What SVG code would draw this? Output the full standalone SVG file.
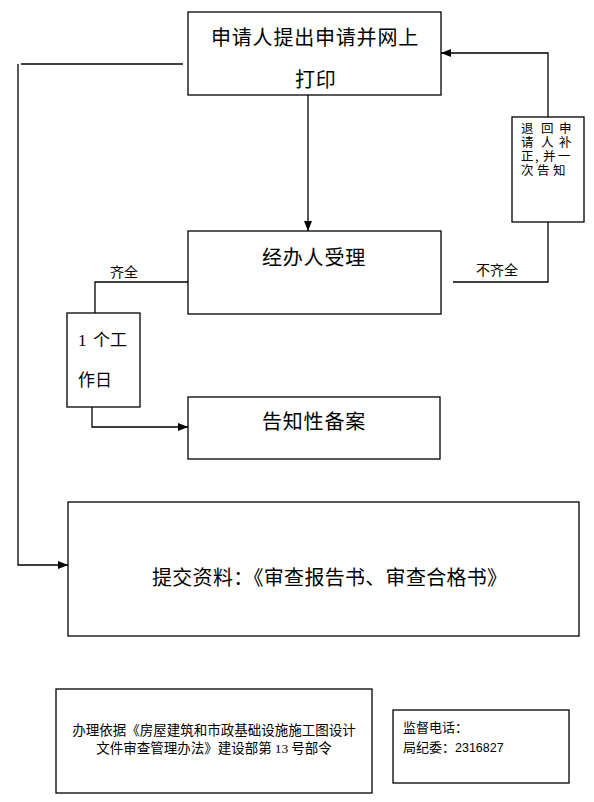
<svg xmlns="http://www.w3.org/2000/svg" width="594" height="802" viewBox="0 0 594 802">
<defs>
<marker id="arr" viewBox="0 0 10 8" refX="10" refY="4" markerWidth="10" markerHeight="8" markerUnits="userSpaceOnUse" orient="auto">
<path d="M0,0 L10,4 L0,8 Z" fill="#000"/>
</marker>
</defs>
<style>
rect{fill:#fff;stroke:#000;stroke-width:1.3}
.c line,.c polyline{fill:none;stroke:#000;stroke-width:1.3}
text{font-family:"Noto Sans CJK SC","Liberation Sans",sans-serif;fill:#000}
.big{font-size:20px;letter-spacing:0.8px}
.sm{font-size:13.5px}
.bx{font-size:14px}
.rb{font-size:12.5px}
.num{font-family:"Liberation Serif","Noto Sans CJK SC",serif}
</style>
<rect width="594" height="802" style="fill:#fff;stroke:none"/>
<g class="c" id="connectors">
<line x1="308" y1="95" x2="308" y2="231" marker-end="url(#arr)"/>
<polyline points="453,282 548,282 548,222"/>
<polyline points="548,117 548,53 441,53" marker-end="url(#arr)"/>
<polyline points="188,282 95,282 95,313"/>
<polyline points="92,407 92,427 188,427" marker-end="url(#arr)"/>
<line x1="21" y1="64" x2="183" y2="64"/>
<polyline points="18,64 18,565 68,565" marker-end="url(#arr)"/>
</g>
<g id="labels">
<text class="bx" x="476" y="275">不齐全</text>
<text class="bx" x="110" y="277">齐全</text>
</g>
<g id="n1">
<rect x="188" y="12" width="253" height="83"/>
<text class="big" x="211" y="45">申请人提出申请并网上</text>
<text class="big" x="295" y="87">打印</text>
</g>
<g id="n2">
<rect x="188" y="231" width="253" height="83"/>
<text class="big" x="262" y="265">经办人受理</text>
</g>
<g id="n_return">
<rect x="512" y="117" width="72" height="105"/>
<text class="rb"><tspan x="521 541 559" y="133">退回申</tspan><tspan x="521 541 559" y="147">请人补</tspan><tspan x="521 535 543 558" y="161">正,并一</tspan><tspan x="521 537 553" y="175">次告知</tspan></text>
</g>
<g id="n_day">
<rect x="67" y="313" width="73" height="94"/>
<text style="font-size:17px" y="346"><tspan class="num" x="78">1</tspan><tspan x="93">个工</tspan></text>
<text style="font-size:17px" x="78" y="386">作日</text>
</g>
<g id="n3">
<rect x="188" y="397" width="252" height="62"/>
<text class="big" x="262" y="429">告知性备案</text>
</g>
<g id="n5">
<rect x="68" y="502" width="511" height="134"/>
<text class="big" x="152" y="585" style="letter-spacing:0.3px">提交资料：《审查报告书、审查合格书》</text>
</g>
<g id="n6">
<rect x="56" y="689" width="316" height="104"/>
<text class="sm" x="214" y="735" text-anchor="middle">办理依据《房屋建筑和市政基础设施施工图设计</text>
<text class="sm" x="214" y="753" text-anchor="middle">文件审查管理办法》建设部第 <tspan class="num">13</tspan> 号部令</text>
</g>
<g id="n7">
<rect x="393" y="710" width="176" height="73"/>
<text style="font-size:13px" x="403" y="732">监督电话：</text>
<text style="font-size:13px" x="403" y="752">局纪委：<tspan style="font-family:'Liberation Sans',sans-serif;font-size:12.5px">2316827</tspan></text>
</g>
</svg>
